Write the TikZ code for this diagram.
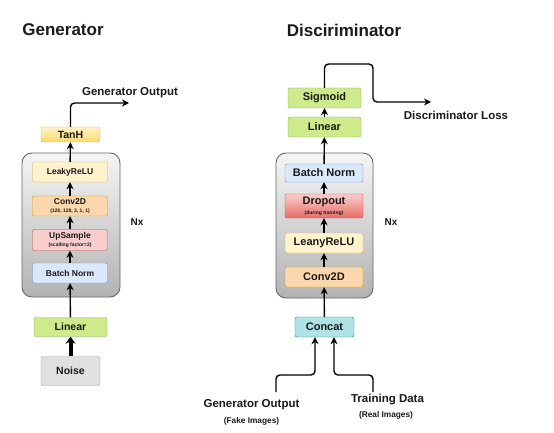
\documentclass[tikz,border=0pt]{standalone}
\usepackage{fontspec}
\setmainfont{Liberation Sans}
\usetikzlibrary{arrows.meta,calc}

\definecolor{ylwfill}{HTML}{FFF2CC}
\definecolor{ylwdark}{HTML}{FFD966}
\definecolor{ylwline}{HTML}{D6B656}
\definecolor{orgfill}{HTML}{FAD7AC}
\definecolor{orgline}{HTML}{D79B00}
\definecolor{redfill}{HTML}{F8CECC}
\definecolor{reddark}{HTML}{EA6B66}
\definecolor{redline}{HTML}{B85450}
\definecolor{bluefill}{HTML}{DAE8FC}
\definecolor{blueline}{HTML}{6C8EBF}
\definecolor{grnfill}{HTML}{CDEB8B}
\definecolor{grnline}{HTML}{82B366}
\definecolor{cyanfill}{HTML}{B0E3E6}
\definecolor{cyanline}{HTML}{0E8088}
\definecolor{txt}{HTML}{1A1A1A}

\tikzset{
    layer/.style = {draw, rounded corners = 2pt, inner sep = 0pt, align = center,
        text = txt, font = \bfseries\fontsize{8.5}{9}\selectfont},
    dlayer/.style = {layer, font = \bfseries\fontsize{11}{12}\selectfont},
    group/.style = {draw = black!60, line width = 0.9pt, rounded corners = 10pt,
        top color = black!4, bottom color = black!30, inner sep = 0pt},
    link/.style = {draw, line width = 1.4pt, rounded corners = 4pt,
        -{Stealth[length = 7pt, width = 7pt]}},
    tag/.style = {text = txt, font = \bfseries\fontsize{11.5}{12}\selectfont},
    note/.style = {text = txt, font = \bfseries\fontsize{8.3}{9}\selectfont},
    title/.style = {text = txt, font = \bfseries\fontsize{17}{18}\selectfont},
}
\newcommand{\sub}[1]{{\fontsize{5}{6}\selectfont #1}}

\begin{document}
\begin{tikzpicture}[x = 1pt, y = -1pt]
        \useasboundingbox (0,0) rectangle (554,433);
        % titles
        \node[title](gtitle) at (63,30) {Generator};
        \node[title](dtitle) at (344,30) {Disciriminator};

        % ---- generator ----
        \node[group, minimum width = 98pt, minimum height = 144pt](gbox) at (71,225) {};
        \node[layer, fill = ylwfill, draw = ylwline, minimum width = 75pt, minimum height = 20pt](grelu) at (70,172) {LeakyReLU};
        \node[layer, fill = orgfill, draw = orgline, minimum width = 75pt, minimum height = 20pt](gconv) at (70,206) {Conv2D\\[-1pt]\sub{(128, 128, 3, 1, 1)}};
        \node[layer, fill = redfill, draw = redline, minimum width = 75pt, minimum height = 21pt](gup) at (70,240) {UpSample\\[-1pt]\sub{(scalling factor=2)}};
        \node[layer, fill = bluefill, draw = blueline, minimum width = 75pt, minimum height = 20pt](gbn) at (70,273) {Batch Norm};
        \node[tag, font = \bfseries\fontsize{10}{11}\selectfont](gnx) at (137,222) {Nx};
        \node[layer, top color = ylwfill, bottom color = ylwdark, draw = ylwline, minimum width = 59pt, minimum height = 15pt,
            font = \bfseries\fontsize{10.5}{11}\selectfont](tanh) at (70.5,134.5) {TanH};
        \node[layer, fill = grnfill, draw = grnline, minimum width = 73pt, minimum height = 19pt,
            font = \bfseries\fontsize{10.5}{11}\selectfont](glin) at (70.5,327) {Linear};
        \node[layer, fill = black!12, draw = black!35, minimum width = 59pt, minimum height = 29pt,
            font = \bfseries\fontsize{10.5}{11}\selectfont](noise) at (70.5,371) {Noise};
        % output
        \node[tag](gouttxt) at (130,93) {Generator Output};
        \coordinate(gout) at (129,103);
        % arrows
        \path[draw, line width = 4pt, -{Stealth[length = 7pt, width = 10pt]}](noise)to(glin);
        \path[link](glin)to(gbn);
        \path[link](gbn)to(gup);
        \path[link](gup)to(gconv);
        \path[link](gconv)to(grelu);
        \path[link](grelu)to(tanh);
        \path[link](tanh.north)|-(gout);

        % ---- discriminator ----
        \node[group, minimum width = 97pt, minimum height = 145pt](dbox) at (324.5,225.5) {};
        \node[dlayer, fill = bluefill, draw = blueline, minimum width = 78pt, minimum height = 18pt](dbn) at (324,173) {Batch Norm};
        \node[dlayer, top color = redfill, bottom color = reddark, draw = redline, minimum width = 78pt, minimum height = 24pt](drop) at (324,206) {Dropout\\[-2pt]\sub{(during training)}};
        \node[dlayer, fill = ylwfill, draw = ylwline, minimum width = 78pt, minimum height = 20pt](drelu) at (324,243) {LeanyReLU};
        \node[dlayer, fill = orgfill, draw = orgline, minimum width = 78pt, minimum height = 20pt](dconv) at (324,277) {Conv2D};
        \node[tag, font = \bfseries\fontsize{10}{11}\selectfont](dnx) at (391,222) {Nx};
        \node[dlayer, fill = grnfill, draw = grnline, minimum width = 73pt, minimum height = 20pt](dlin) at (324.5,127) {Linear};
        \node[dlayer, fill = grnfill, draw = grnline, minimum width = 73pt, minimum height = 20pt](sig) at (324.5,98) {Sigmoid};
        \node[dlayer, fill = cyanfill, draw = cyanline, minimum width = 59pt, minimum height = 20pt](concat) at (324.5,327) {Concat};
        % inputs
        \node[tag](faketxt) at (251.5,405) {Generator Output};
        \node[note](fakesub) at (251.5,421) {(Fake Images)};
        \node[tag](realtxt) at (387.5,400) {Training Data};
        \node[note](realsub) at (386,415) {(Real Images)};
        \coordinate(fakein) at (276,392);
        \coordinate(realin) at (373,392);
        % output
        \node[tag](losstxt) at (456,115) {Discriminator Loss};
        \coordinate(bend) at (373,64);
        \coordinate(dloss) at (431,102);
        % arrows
        \path[link](fakein)--++(0,-17)-|([xshift = -9.5pt]concat.south);
        \path[link](realin)--++(0,-17)-|([xshift = 9.5pt]concat.south);
        \path[link](concat)to(dconv);
        \path[link](dconv)to(drelu);
        \path[link](drelu)to(drop);
        \path[link](drop)to(dbn);
        \path[link](dbn)to(dlin);
        \path[link](dlin)to(sig);
        \path[link](sig.north)|-(bend)|-(dloss);
    \end{tikzpicture}
\end{document}
